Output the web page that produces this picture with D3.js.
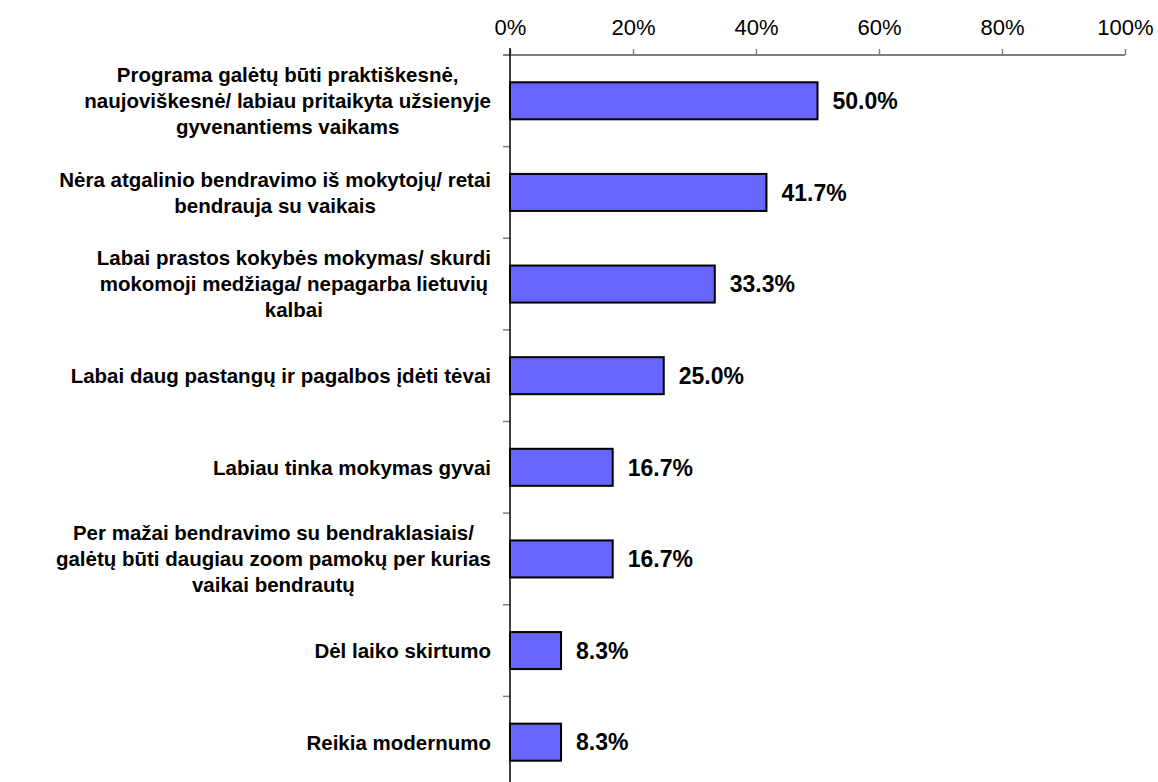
<!DOCTYPE html>
<html>
<head>
<meta charset="utf-8">
<script src="https://cdn.jsdelivr.net/npm/d3@7"></script>
<style>
  body { margin: 0; background: #fff; }
  text { font-family: "Liberation Sans", Arial, sans-serif; fill: #000; }
</style>
</head>
<body>
<div id="chart"></div>
<script>
const categories = [
  ["Programa galėtų būti praktiškesnė,", "naujoviškesnė/ labiau pritaikyta užsienyje", "gyvenantiems vaikams"],
  ["Nėra atgalinio bendravimo iš mokytojų/ retai", "bendrauja su vaikais"],
  ["Labai prastos kokybės mokymas/ skurdi", "mokomoji medžiaga/ nepagarba lietuvių", "kalbai"],
  ["Labai daug pastangų ir pagalbos įdėti tėvai"],
  ["Labiau tinka mokymas gyvai"],
  ["Per mažai bendravimo su bendraklasiais/", "galėtų būti daugiau zoom pamokų per kurias", "vaikai bendrautų"],
  ["Dėl laiko skirtumo"],
  ["Reikia modernumo"]
];
const values = [0.500, 0.417, 0.333, 0.250, 0.167, 0.167, 0.083, 0.083];
const ticks = [0, 0.2, 0.4, 0.6, 0.8, 1.0];

const width = 1158;
const height = 782;
const plotLeft = 510;
const plotRight = 1125;
const plotTop = 55;
const plotBottom = 788;
const labelRight = 491;

const svg = d3.select("#chart").append("svg")
  .attr("width", width)
  .attr("height", height);

const x = d3.scaleLinear().domain([0, 1]).range([plotLeft, plotRight]);
const y = d3.scaleBand()
  .domain(d3.range(categories.length))
  .range([plotTop, plotBottom])
  .paddingInner(0.596)
  .paddingOuter(0.298);

// top axis
const xAxis = d3.axisTop(x)
  .tickValues(ticks)
  .tickSize(6)
  .tickSizeOuter(0)
  .tickFormat(d3.format(".0%"));

const gx = svg.append("g")
  .attr("transform", `translate(0, ${plotTop})`)
  .call(xAxis);
gx.select(".domain").remove();
gx.append("line")
  .attr("x1", plotLeft - 7)
  .attr("x2", plotRight)
  .attr("stroke", "#808080")
  .attr("stroke-width", 2);
gx.selectAll(".tick line").attr("stroke", "#808080").attr("stroke-width", 1.5);
gx.selectAll(".tick text")
  .attr("font-size", 22)
  .attr("fill", "#000")
  .attr("y", -20)
  .style("font-family", "Liberation Sans, Arial, sans-serif");

// category ticks at band boundaries
const step = y.step();
svg.append("g")
  .selectAll("line")
  .data(d3.range(1, categories.length))
  .join("line")
  .attr("x1", plotLeft - 7)
  .attr("x2", plotLeft)
  .attr("y1", i => plotTop + i * step)
  .attr("y2", i => plotTop + i * step)
  .attr("stroke", "#808080")
  .attr("stroke-width", 1.5);

// bars
svg.append("g")
  .selectAll("rect")
  .data(values)
  .join("rect")
  .attr("x", x(0))
  .attr("y", (d, i) => y(i))
  .attr("width", d => x(d) - x(0))
  .attr("height", y.bandwidth())
  .attr("fill", "#6666FF")
  .attr("stroke", "#000")
  .attr("stroke-width", 2);

// vertical axis line
svg.append("line")
  .attr("x1", plotLeft)
  .attr("x2", plotLeft)
  .attr("y1", plotTop - 7)
  .attr("y2", height)
  .attr("stroke", "#000")
  .attr("stroke-width", 1.5);

// value labels
svg.append("g")
  .selectAll("text")
  .data(values)
  .join("text")
  .attr("x", d => x(d) + 15)
  .attr("y", (d, i) => y(i) + y.bandwidth() / 2)
  .attr("dy", "0.36em")
  .attr("font-size", 23)
  .attr("font-weight", "bold")
  .text(d => d3.format(".1%")(d));

// category labels, lines centred inside a right-aligned block
const lineH = 26;
const labels = svg.append("g")
  .selectAll("g")
  .data(categories)
  .join("g");

labels.each(function(lines, i) {
  const g = d3.select(this);
  const cy = y(i) + y.bandwidth() / 2;
  const texts = g.selectAll("text")
    .data(lines)
    .join("text")
    .attr("font-size", 20.5)
    .attr("font-weight", "bold")
    .attr("text-anchor", "middle")
    .attr("y", (d, j) => cy + (j - (lines.length - 1) / 2) * lineH)
    .attr("dy", "0.36em")
    .text(d => d);
  let maxW = 0;
  texts.each(function() { maxW = Math.max(maxW, this.getComputedTextLength()); });
  texts.attr("x", labelRight - maxW / 2);
});
</script>
</body>
</html>
